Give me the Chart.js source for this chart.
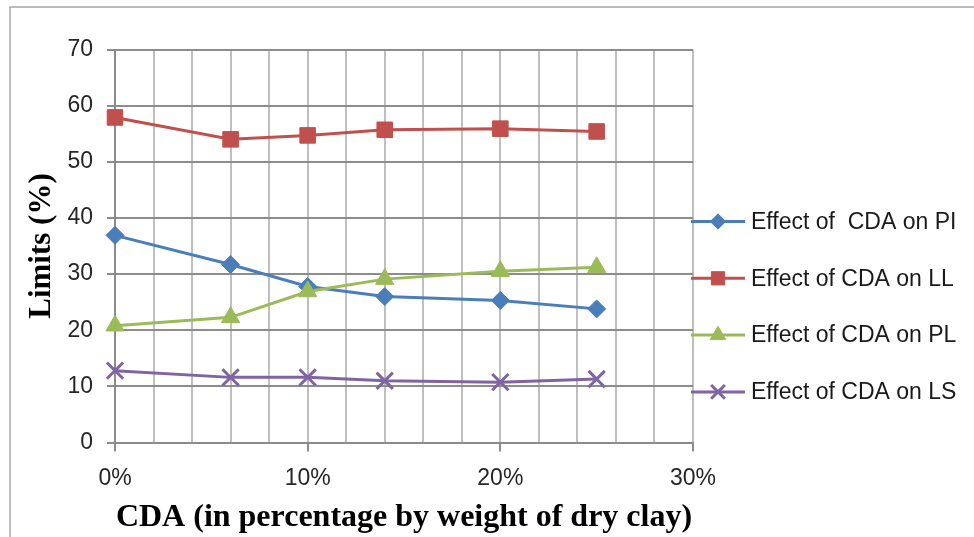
<!DOCTYPE html>
<html>
<head>
<meta charset="utf-8">
<script src="https://cdn.jsdelivr.net/npm/chart.js@4.4.0/dist/chart.umd.min.js"></script>
<style>
  html, body { margin: 0; padding: 0; background: #fff; }
  #wrap { position: relative; width: 974px; height: 537px; }
</style>
</head>
<body>
<div id="wrap"><canvas id="chart" width="974" height="537"></canvas></div>
<script>
// CDA content (% by weight of dry clay)
const cdaPercent = [0, 6, 10, 14, 20, 25];

// limits (%)
const effectPI = [36.9, 31.7, 27.8, 26.0, 25.3, 23.8];
const effectLL = [57.9, 54.0, 54.7, 55.7, 55.9, 55.4];
const effectPL = [20.8, 22.3, 26.9, 29.1, 30.5, 31.2];
const effectLS = [12.8, 11.6, 11.6, 11.0, 10.75, 11.3];

const seriesNames = [
  "Effect of  CDA on PI",
  "Effect of CDA on LL",
  "Effect of CDA on PL",
  "Effect of CDA on LS",
];

const yTicks = [0, 10, 20, 30, 40, 50, 60, 70];
const xLabelEvery = 10;

function toPoints(values) {
  return cdaPercent.map((x, i) => ({ x: x, y: values[i] }));
}

function makeSeries(label, values, color, style, radius, bw, order) {
  return {
    label: label,
    data: toPoints(values),
    borderColor: color,
    backgroundColor: color,
    borderWidth: 3,
    pointStyle: style,
    pointRadius: radius,
    pointHoverRadius: radius,
    pointBorderWidth: bw,
    pointBackgroundColor: color,
    pointBorderColor: color,
    tension: 0,
    clip: false,
    order: order,
  };
}

// outer frame of the figure
const framePlugin = {
  id: "frame",
  beforeDraw(chart) {
    const ctx = chart.ctx;
    ctx.save();
    ctx.fillStyle = "#ffffff";
    ctx.fillRect(0, 0, chart.width, chart.height);
    ctx.strokeStyle = "#a6a6a6";
    ctx.lineWidth = 1.5;
    ctx.beginPath();
    ctx.moveTo(10, chart.height + 5);
    ctx.lineTo(10, 7);
    ctx.lineTo(chart.width + 5, 7);
    ctx.stroke();
    ctx.restore();
  },
};

// legend drawn on the right, line + marker like the original
const sideLegend = {
  id: "sideLegend",
  afterDraw(chart) {
    const ctx = chart.ctx;
    const x0 = 691, x1 = 745, xm = 718, tx = 751;
    const top = 221.5, gap = 56.8;
    chart.data.datasets.forEach((ds, i) => {
      const y = top + i * gap;
      ctx.save();
      ctx.strokeStyle = ds.borderColor;
      ctx.lineWidth = 3;
      ctx.beginPath();
      ctx.moveTo(x0, y);
      ctx.lineTo(x1, y);
      ctx.stroke();
      ctx.fillStyle = ds.pointBackgroundColor;
      ctx.strokeStyle = ds.pointBorderColor;
      ctx.lineWidth = ds.pointBorderWidth;
      Chart.helpers.drawPoint(ctx, {
        pointStyle: ds.pointStyle,
        radius: ds.pointRadius * 0.85,
        borderWidth: ds.pointBorderWidth,
        rotation: 0,
      }, xm, y);
      ctx.fillStyle = "#1a1a1a";
      ctx.font = "23px 'Liberation Sans', Arial, sans-serif";
      ctx.textBaseline = "middle";
      ctx.textAlign = "left";
      ctx.fillText(ds.label, tx, y + 1);
      ctx.restore();
    });
  },
};

new Chart(document.getElementById("chart"), {
  type: "line",
  data: {
    datasets: [
      makeSeries(seriesNames[0], effectPI, "#4a7ebb", "rectRot", 9, 1, 4),
      makeSeries(seriesNames[1], effectLL, "#c0504d", "rect", 11, 1, 3),
      makeSeries(seriesNames[2], effectPL, "#9bbb59", "triangle", 10.5, 1, 2),
      makeSeries(seriesNames[3], effectLS, "#8064a2", "crossRot", 11.5, 3, 1),
    ],
  },
  options: {
    responsive: false,
    animation: false,
    devicePixelRatio: 1,
    layout: {
      autoPadding: false,
      padding: { left: 0, top: 49.5, right: 281, bottom: 0 },
    },
    plugins: {
      legend: { display: false },
      tooltip: { enabled: false },
    },
    scales: {
      x: {
        type: "linear",
        min: 0,
        max: 30,
        afterFit(scale) { scale.height = 94.5; },
        ticks: {
          stepSize: 2,
          padding: 13,
          maxRotation: 0,
          autoSkip: false,
          color: "#262626",
          font: { family: "'Liberation Sans', Arial, sans-serif", size: 23 },
          callback: (v) => (v % xLabelEvery === 0 ? v + "%" : ""),
        },
        grid: {
          color: "#bfbfbf",
          lineWidth: 2,
          tickLength: 9,
          tickColor: (c) => (c.tick && c.tick.value % xLabelEvery === 0 ? "#8c8c8c" : "rgba(0,0,0,0)"),
          tickWidth: 2,
        },
        border: { color: "#8c8c8c", width: 2 },
        title: {
          display: true,
          text: "CDA (in percentage by weight of dry clay)",
          color: "#000",
          font: { family: "'Liberation Serif', 'Times New Roman', serif", size: 32, weight: "bold" },
          padding: { top: 0, bottom: 0 },
        },
      },
      y: {
        min: 0,
        max: 70,
        afterFit(scale) { scale.width = 115; },
        afterBuildTicks(scale) { scale.ticks = yTicks.map((v) => ({ value: v })); },
        ticks: {
          padding: 14,
          color: "#262626",
          font: { family: "'Liberation Sans', Arial, sans-serif", size: 23 },
        },
        grid: {
          color: "#8c8c8c",
          lineWidth: 2,
          tickLength: 8,
        },
        border: { color: "#8c8c8c", width: 2 },
        title: {
          display: true,
          text: "Limits (%)",
          color: "#000",
          font: { family: "'Liberation Serif', 'Times New Roman', serif", size: 31, weight: "bold" },
          padding: { top: 23, bottom: 0 },
        },
      },
    },
  },
  plugins: [framePlugin, sideLegend],
});
</script>
</body>
</html>
